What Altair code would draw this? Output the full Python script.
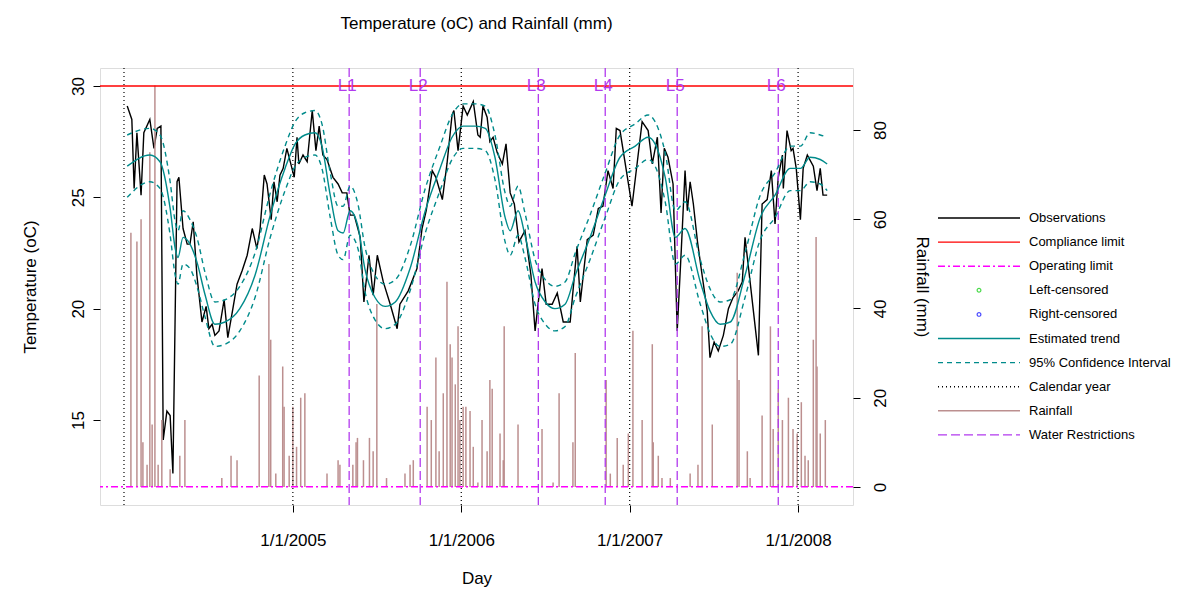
import pandas as pd
import altair as alt

FONT = "Liberation Sans"
START = pd.Timestamp("2004-01-01")

# observations: days since 1/1/2004 and temperature (oC)
obs_day = [7, 17, 22, 28, 37, 43, 56, 65, 72, 80, 85, 93, 100, 106, 115, 119, 128, 137, 143, 150,
           158, 169, 178, 184, 191, 197, 206, 217, 225, 236, 245, 256, 267, 278, 288, 295, 304, 310,
           319, 325, 332, 338, 345, 353, 364, 369, 375, 379, 388, 397, 408, 416, 423, 431, 440, 453,
           464, 473, 483, 490, 499, 512, 520, 531, 540, 549, 562, 577, 592, 598, 616, 635, 646, 655,
           668, 676, 690, 700, 711, 715, 724, 735, 744, 757, 767, 772, 778, 787, 793, 800, 809, 820,
           828, 837, 846, 856, 869, 882, 891, 906, 915, 928, 939, 952, 967, 982, 989, 1004, 1017,
           1028, 1038, 1049, 1060, 1067, 1075, 1101, 1123, 1136, 1145, 1156, 1164, 1171, 1179, 1190,
           1199, 1208, 1216, 1221, 1227, 1234, 1243, 1253, 1264, 1270, 1279, 1288, 1299, 1310, 1320,
           1331, 1340, 1346, 1357, 1375, 1383, 1394, 1403, 1411, 1418, 1427, 1429, 1437, 1446, 1450,
           1457, 1466, 1472, 1481, 1494, 1502, 1509, 1515, 1524]
obs_temp = [29.1, 28.5, 25.4, 27.9, 25.1, 27.9, 28.5, 27.2, 28.1, 28.2, 14.1, 15.4, 15.2, 12.6,
            25.7, 25.9, 23.6, 22.9, 22.9, 23.9, 21.5, 19.4, 20.1, 19.1, 19.3, 18.8, 19.0, 20.4, 18.7,
            20.0, 21.1, 21.7, 22.4, 23.6, 22.7, 23.6, 26.0, 25.6, 24.0, 25.7, 24.8, 26.0, 26.3, 27.2,
            26.3, 25.9, 27.7, 26.5, 26.9, 26.6, 28.9, 27.1, 28.2, 26.9, 26.7, 25.9, 25.6, 25.2, 25.2,
            24.2, 24.2, 23.2, 20.3, 22.4, 20.6, 22.4, 21.2, 20.2, 19.1, 20.2, 20.8, 21.8, 23.6, 24.4,
            26.2, 25.9, 24.9, 26.5, 28.7, 28.9, 27.1, 29.1, 28.7, 29.3, 27.8, 27.7, 29.1, 28.6, 27.5,
            27.7, 27.0, 26.5, 27.4, 25.2, 24.7, 23.0, 23.5, 21.5, 19.0, 21.8, 20.2, 20.2, 20.7, 19.4,
            19.4, 22.8, 20.3, 23.1, 23.3, 24.5, 24.6, 26.2, 25.4, 28.1, 28.0, 24.6, 28.4, 28.0, 26.5,
            27.7, 24.3, 27.2, 26.8, 25.6, 19.0, 22.7, 26.2, 24.4, 25.7, 24.7, 23.0, 21.5, 19.9, 17.8,
            18.5, 18.1, 18.8, 20.0, 20.5, 20.8, 21.2, 23.2, 21.2, 17.9, 24.7, 24.9, 26.2, 23.8, 25.9,
            26.9, 25.4, 28.0, 27.1, 27.2, 26.3, 24.0, 26.3, 26.9, 26.4, 25.3, 26.3, 25.1, 25.1]

# estimated trend and half-width of its 95% confidence interval
trend_day = [7, 56, 78, 100, 111, 117, 128, 143, 158, 176, 197, 219, 251, 284, 317, 349, 371, 392,
             414, 429, 447, 464, 475, 490, 507, 522, 544, 566, 588, 620, 653, 685, 711, 735, 761,
             783, 804, 826, 837, 854, 869, 891, 913, 934, 956, 978, 1010, 1043, 1075, 1108, 1136,
             1151, 1173, 1195, 1216, 1249, 1270, 1292, 1314, 1346, 1379, 1411, 1444, 1466, 1487,
             1509, 1524]
trend_temp = [26.4, 26.9, 26.6, 24.5, 22.7, 22.3, 23.2, 22.9, 22.1, 20.6, 19.3, 19.4, 20.0, 21.5,
              24.2, 26.3, 27.4, 27.8, 27.9, 27.3, 25.1, 23.5, 23.4, 24.4, 23.7, 21.8, 20.5, 20.1,
              20.3, 21.8, 24.4, 26.3, 27.7, 28.2, 28.2, 28.1, 26.8, 24.1, 23.5, 24.4, 23.3, 21.2,
              20.3, 20.0, 20.2, 21.5, 23.2, 25.1, 26.8, 27.3, 27.7, 27.4, 25.9, 23.2, 23.6, 21.2,
              19.9, 19.3, 19.4, 21.5, 24.1, 25.1, 26.3, 26.3, 26.8, 26.7, 26.5]
trend_hw = [1.4, 1.2, 1.2, 1.2, 1.2, 1.2, 1.2, 1.1, 1.1, 1.0, 1.0, 1.0, 1.0, 1.0, 1.0, 1.0, 1.0,
            1.0, 1.0, 1.0, 1.0, 1.1, 1.2, 1.1, 1.0, 1.0, 1.0, 1.0, 1.0, 1.0, 1.0, 1.0, 1.0, 1.0,
            1.0, 1.0, 1.0, 1.1, 1.1, 1.1, 1.0, 1.0, 1.0, 1.0, 1.0, 1.0, 1.0, 1.0, 1.0, 1.0, 1.0,
            1.0, 1.1, 1.2, 1.2, 1.0, 1.0, 1.0, 1.0, 1.0, 1.0, 1.0, 1.0, 1.0, 1.1, 1.1, 1.2]

# rainfall (mm)
rain_day = [15, 28, 37, 41, 50, 56, 61, 67, 74, 82, 100, 121, 132, 212, 232, 245, 293, 314, 318,
            329, 344, 347, 358, 366, 374, 383, 392, 440, 464, 468, 496, 503, 506, 519, 532, 540,
            548, 569, 609, 620, 627, 657, 666, 676, 683, 692, 700, 707, 711, 718, 724, 728, 741,
            750, 757, 735, 767, 776, 787, 793, 798, 815, 822, 824, 854, 906, 930, 943, 973, 978,
            1045, 1054, 1069, 1082, 1093, 1103, 1123, 1145, 1147, 1158, 1166, 1184, 1227, 1244,
            1253, 1275, 1329, 1333, 1351, 1357, 1383, 1401, 1407, 1418, 1427, 1440, 1450, 1459,
            1468, 1476, 1483, 1494, 1500, 1502, 1509, 1520]
rain_mm = [57, 55, 60, 10, 5, 75, 14, 90, 5, 15, 4, 7, 15, 2, 7, 6, 25, 50, 33, 3, 27, 18, 7, 18,
           9, 20, 21, 3, 6, 5, 5, 10, 11, 6, 11, 8, 41, 2, 3, 5, 6, 18, 15, 29, 8, 21, 46, 32, 29,
           23, 36, 15, 18, 17, 9, 18, 1, 15, 8, 24, 22, 12, 6, 36, 14, 13, 1, 21, 10, 30, 24, 3,
           11, 5, 12, 35, 15, 32, 10, 7, 2, 2, 3, 5, 36, 14, 48, 24, 8, 2, 16, 36, 13, 22, 15, 20,
           13, 12, 19, 7, 6, 33, 56, 27, 12, 15]

years = ["2004-01-01", "2005-01-01", "2006-01-01", "2007-01-01", "2008-01-01"]
restr_day = [488, 642, 898, 1043, 1199, 1418]
restr_lab = ["L1", "L2", "L3", "L4", "L5", "L6"]


def to_date(days):
    return START + pd.to_timedelta(days, unit="D")


obs = pd.DataFrame({"date": to_date(obs_day), "temp": obs_temp})
trend = pd.DataFrame({"date": to_date(trend_day), "trend": trend_temp, "hw": trend_hw})
trend["lower"] = trend["trend"] - trend["hw"]
trend["upper"] = trend["trend"] + trend["hw"]
rain = pd.DataFrame({"date": to_date(rain_day), "rain": rain_mm, "zero": 0})
yr = pd.DataFrame({"date": pd.to_datetime(years)})
restr = pd.DataFrame({"date": to_date(restr_day), "lab": restr_lab})

TEAL = "#008B8B"
PURPLE = "#B23AEE"
xscale = alt.Scale(domain=["2003-11-10", "2008-04-29"], nice=False)
tdom = [11.18, 30.81]
rscale = alt.Scale(domain=[-4.04, 93.9], nice=False, zero=False)


def tscale():
    return alt.Scale(domain=tdom, nice=False, zero=False)


xaxis = alt.Axis(values=[pd.Timestamp(y).isoformat() for y in years[1:]],
                 labelExpr="'1/1/' + year(datum.value)", title="Day", grid=False,
                 domain=False, tickColor="black", tickSize=7, labelFontSize=17,
                 titleFontSize=17, labelColor="black", titleColor="black",
                 labelPadding=20, titlePadding=22, titleFontWeight="normal", labelFont=FONT,
                 titleFont=FONT)
X = alt.X("date:T", scale=xscale, axis=xaxis)

taxis = alt.Axis(values=[15, 20, 25, 30], title="Temperature (oC)", orient="left", grid=False,
                 domain=False, tickColor="black", tickSize=7, labelAngle=-90,
                 labelAlign="center", labelBaseline="bottom", labelPadding=6, labelFontSize=17,
                 titleFontSize=17, titleFontWeight="normal", titlePadding=30,
                 labelColor="black", titleColor="black", labelFont=FONT, titleFont=FONT)
raxis = alt.Axis(values=[0, 20, 40, 60, 80], title="Rainfall (mm)", orient="right", grid=False,
                 domain=False, tickColor="black", tickSize=7, labelAngle=-90,
                 labelAlign="center", labelBaseline="top", labelPadding=12, labelFontSize=17,
                 titleFontSize=17, titleFontWeight="normal", titlePadding=24,
                 labelColor="black", titleColor="black", labelFont=FONT, titleFont=FONT)

yr_rule = alt.Chart(yr).mark_rule(color="black", strokeDash=[1, 3], strokeWidth=1.2).encode(x=X)
restr_rule = alt.Chart(restr).mark_rule(color=PURPLE, strokeDash=[9, 4],
                                        strokeWidth=1.3).encode(x=X)
rain_rule = alt.Chart(rain).mark_rule(color="#BC8F8F", strokeWidth=1.5).encode(
    x=X, y=alt.Y("rain:Q", scale=rscale, axis=raxis), y2="zero:Q")
obs_line = alt.Chart(obs).mark_line(color="black", strokeWidth=1.4).encode(
    x=X, y=alt.Y("temp:Q", scale=tscale(), axis=taxis))
ci_lo = alt.Chart(trend).mark_line(color=TEAL, strokeDash=[5, 4], strokeWidth=1.4,
                                   interpolate="monotone").encode(
    x=X, y=alt.Y("lower:Q", scale=tscale(), axis=None))
ci_hi = alt.Chart(trend).mark_line(color=TEAL, strokeDash=[5, 4], strokeWidth=1.4,
                                   interpolate="monotone").encode(
    x=X, y=alt.Y("upper:Q", scale=tscale(), axis=None))
tr_line = alt.Chart(trend).mark_line(color=TEAL, strokeWidth=1.4,
                                     interpolate="monotone").encode(
    x=X, y=alt.Y("trend:Q", scale=tscale(), axis=None))
comp = alt.Chart(pd.DataFrame({"v": [30]})).mark_rule(color="red", strokeWidth=1.5).encode(
    y=alt.Y("v:Q", scale=tscale(), axis=None))
oper = alt.Chart(pd.DataFrame({"v": [12]})).mark_rule(
    color="#FF00FF", strokeDash=[7, 3, 2, 3], strokeWidth=1.3).encode(
    y=alt.Y("v:Q", scale=tscale(), axis=None))
restr_txt = alt.Chart(restr).mark_text(color=PURPLE, fontSize=17, font=FONT, dx=-2,
                                       baseline="middle").encode(
    x=X, y=alt.value(18), text="lab:N")

# hand-made legend to the right of the plot
legend_items = [
    ("Observations", "line", "black", []),
    ("Compliance limit", "line", "red", []),
    ("Operating limit", "line", "#FF00FF", [7, 3, 2, 3]),
    ("Left-censored", "point", "#00CC00", []),
    ("Right-censored", "point", "#0000FF", []),
    ("Estimated trend", "line", TEAL, []),
    ("95% Confidence Interval", "line", TEAL, [5, 4]),
    ("Calendar year", "line", "black", [1, 3]),
    ("Rainfall", "line", "#BC8F8F", []),
    ("Water Restrictions", "line", PURPLE, [9, 4]),
]
one = pd.DataFrame({"a": [0]})
leg = []
for i, (lab, kind, col, dash) in enumerate(legend_items):
    yy = 150 + 24.1 * i
    if kind == "line":
        m = alt.Chart(one).mark_rule(color=col, strokeWidth=1.4, strokeDash=dash or [1, 0]).encode(
            x=alt.value(838), x2=alt.value(920), y=alt.value(yy))
    else:
        m = alt.Chart(one).mark_point(color=col, size=14, strokeWidth=1.2).encode(
            x=alt.value(879), y=alt.value(yy))
    t = alt.Chart(one).mark_text(text=lab, align="left", baseline="middle", fontSize=13,
                                 font=FONT, color="black").encode(
        x=alt.value(929), y=alt.value(yy))
    leg += [m, t]

chart = alt.layer(obs_line, rain_rule, yr_rule, restr_rule, ci_lo, ci_hi, tr_line, comp, oper,
                  restr_txt, *leg).resolve_scale(y="independent").properties(
    width=753, height=437,
    padding={"left": 13, "top": 7, "right": 5, "bottom": 5},
    title=alt.TitleParams("Temperature (oC) and Rainfall (mm)", fontSize=17, font=FONT,
                          fontWeight="normal", color="black", offset=34, anchor="middle"),
).configure_view(stroke="black", strokeWidth=1.2).configure(background="white")

chart.save("out.html", embed_options={"renderer": "svg", "actions": False})
